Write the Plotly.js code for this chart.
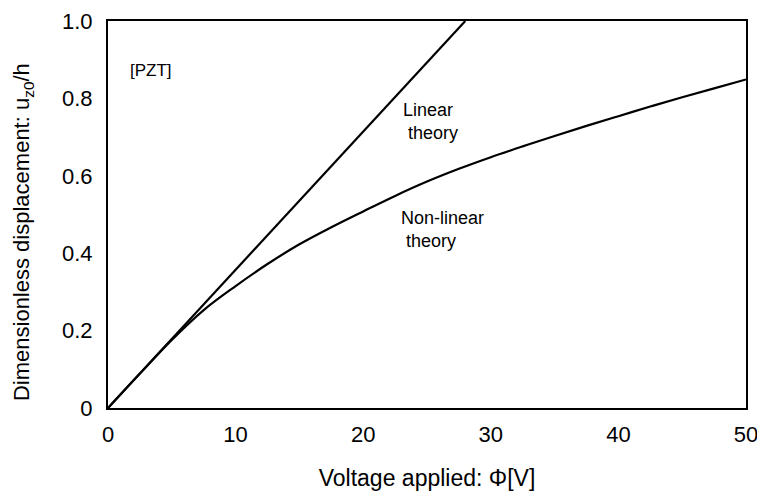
<!DOCTYPE html>
<html><head><meta charset="utf-8">
<script src="https://cdn.plot.ly/plotly-3.0.1.min.js"></script>
<style>html,body{margin:0;padding:0;background:#fff}#plot{width:757px;height:499px}</style>
</head><body><div id="plot"></div>
<script>
const linearX = [0, 28];
const linearY = [0, 1.0];
const nonlinearX = [0, 2.5, 5, 7.5, 10, 12.5, 15, 17.5, 20, 22.5, 25, 27.5, 30, 32.5, 35, 37.5, 40, 42.5, 45, 47.5, 50];
const nonlinearY = [0, 0.089, 0.176, 0.253, 0.315, 0.372, 0.423, 0.467, 0.508, 0.548, 0.585, 0.618, 0.648, 0.676, 0.703, 0.729, 0.754, 0.779, 0.803, 0.826, 0.849];
const xTicks = [0, 10, 20, 30, 40, 50];
const yTicks = [0, 0.2, 0.4, 0.6, 0.8, 1.0];
const yTickText = ['0', '0.2', '0.4', '0.6', '0.8', '1.0'];
const xTitle = 'Voltage applied: \u03A6[V]';
const yTitle = 'Dimensionless displacement: u<sub>z0</sub>/h';

const font = 'Liberation Sans, Arial, sans-serif';
const traces = [
  {x: linearX, y: linearY, mode: 'lines', line: {color: '#000', width: 2.2}, name: 'Linear theory'},
  {x: nonlinearX, y: nonlinearY, mode: 'lines', line: {color: '#000', width: 2.2, shape: 'spline', smoothing: 1}, name: 'Non-linear theory'}
];
const layout = {
  width: 757, height: 499,
  margin: {l: 108, r: 11, t: 21, b: 91},
  paper_bgcolor: '#fff', plot_bgcolor: '#fff',
  showlegend: false,
  font: {family: font, color: '#000', size: 17},
  xaxis: {
    range: [0, 50], tickvals: xTicks, ticktext: xTicks.map(String),
    showgrid: false, zeroline: false, showline: true, mirror: true, linecolor: '#000', linewidth: 2,
    ticks: '', ticklabelstandoff: 6, tickfont: {size: 22}, ticklabeloverflow: 'allow',
    title: {text: xTitle, font: {size: 23}, standoff: 23}
  },
  yaxis: {
    range: [0, 1.0], tickvals: yTicks, ticktext: yTickText,
    showgrid: false, zeroline: false, showline: true, mirror: true, linecolor: '#000', linewidth: 2,
    ticks: '', ticklabelstandoff: 9, tickfont: {size: 22}
  },
  annotations: [
    {x: -0.133, y: 0.455, xref: 'paper', yref: 'paper', text: yTitle, textangle: -90, showarrow: false, xanchor: 'center', yanchor: 'middle', font: {size: 22}},
    {x: 1.6, y: 0.873, xref: 'x', yref: 'y', text: '[PZT]', showarrow: false, xanchor: 'left', font: {size: 17}},
    {x: 23.0, y: 0.74, xref: 'x', yref: 'y', text: 'Linear<br> theory', showarrow: false, xanchor: 'left', align: 'left', font: {size: 18}},
    {x: 22.8, y: 0.462, xref: 'x', yref: 'y', text: 'Non-linear<br> theory', showarrow: false, xanchor: 'left', align: 'left', font: {size: 18}}
  ]
};
Plotly.newPlot('plot', traces, layout, {displayModeBar: false, staticPlot: true});
</script></body></html>
